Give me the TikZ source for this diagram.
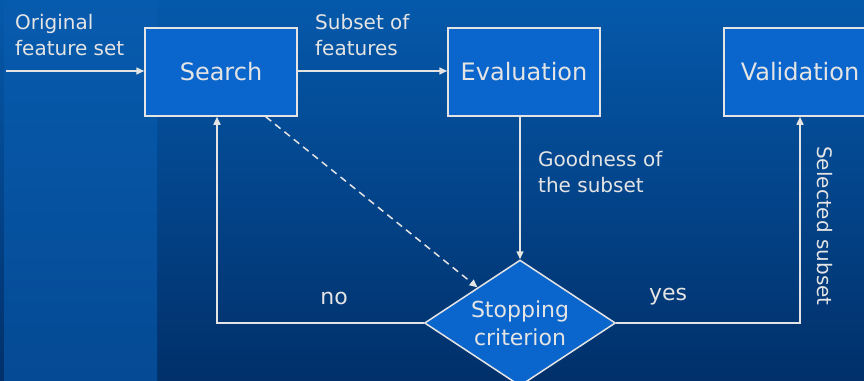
\documentclass[tikz,border=0pt]{standalone}
\usepackage{fontspec}
\setmainfont{DejaVu Sans}
\usepackage{tikz}
\usetikzlibrary{shapes.geometric}
\usetikzlibrary{arrows.meta}

\definecolor{bgtop}{HTML}{0559AB}
\definecolor{bgbot}{HTML}{01306A}
\definecolor{striptop}{HTML}{075BAE}
\definecolor{stripbot}{HTML}{054A94}
\definecolor{boxfill}{HTML}{0A66CC}
\definecolor{ink}{HTML}{E4E4E4}

\tikzset{
  stage/.style={draw=ink, fill=boxfill, line width=1.5pt, text=ink, minimum width=152pt, minimum height=88pt, font=\fontsize{24}{28}\selectfont},
  flow/.style={draw=ink, line width=1.5pt, -{Triangle[length=8pt,width=7pt]}},
  lbl/.style={text=ink, inner sep=0pt, align=left, font=\fontsize{20}{26}\selectfont},
}

\begin{document}
\begin{tikzpicture}[x=1pt, y=-1pt]
  \useasboundingbox (0,0) rectangle (864,380);
  \clip (0,0) rectangle (864,380);
  \shade[top color=bgtop, bottom color=bgbot] (0,0) rectangle (864,380);
  \shade[top color=striptop, bottom color=stripbot] (4,0) rectangle (157,380);

  \node[stage] at (221,72) (search) {Search};
  \node[stage] at (524,72) (eval) {Evaluation};
  \node[stage] at (800,72) (valid) {Validation};
  \node[draw=ink, fill=boxfill, line width=1.5pt, text=ink, diamond, inner sep=0pt, aspect=1.52, minimum width=191pt, minimum height=126pt, align=center, font=\fontsize{22}{28}\selectfont] at (520,323) (crit) {Stopping\\criterion};

  \coordinate (in) at (6,71);
  \draw[flow] (in) -- (in -| search.west);
  \draw[flow] (search.east |- in) -- (eval.west |- in);
  \draw[flow] (crit.north |- eval.south) -- (crit.north);
  \draw[flow, dash pattern=on 7pt off 5pt] (search.-45) -- (crit.140);
  \draw[flow] (crit.west) -| ([xshift=-4pt]search.south);
  \draw[flow] (crit.east) -| (valid.south);

  \node[lbl, anchor=north west] at (15,14) (orig) {Original\\feature set};
  \node[lbl, anchor=north west] at (315,14) (subset) {Subset of\\features};
  \node[lbl, anchor=north west] at (538,151) (good) {Goodness of\\the subset};
  \node[lbl, rotate=-90] at (825,226) (sel) {Selected subset};
  \node[lbl, font=\fontsize{22}{26}\selectfont] at (334,298) (no) {no};
  \node[lbl, font=\fontsize{22}{26}\selectfont] at (668,297) (yes) {yes};
\end{tikzpicture}
\end{document}
